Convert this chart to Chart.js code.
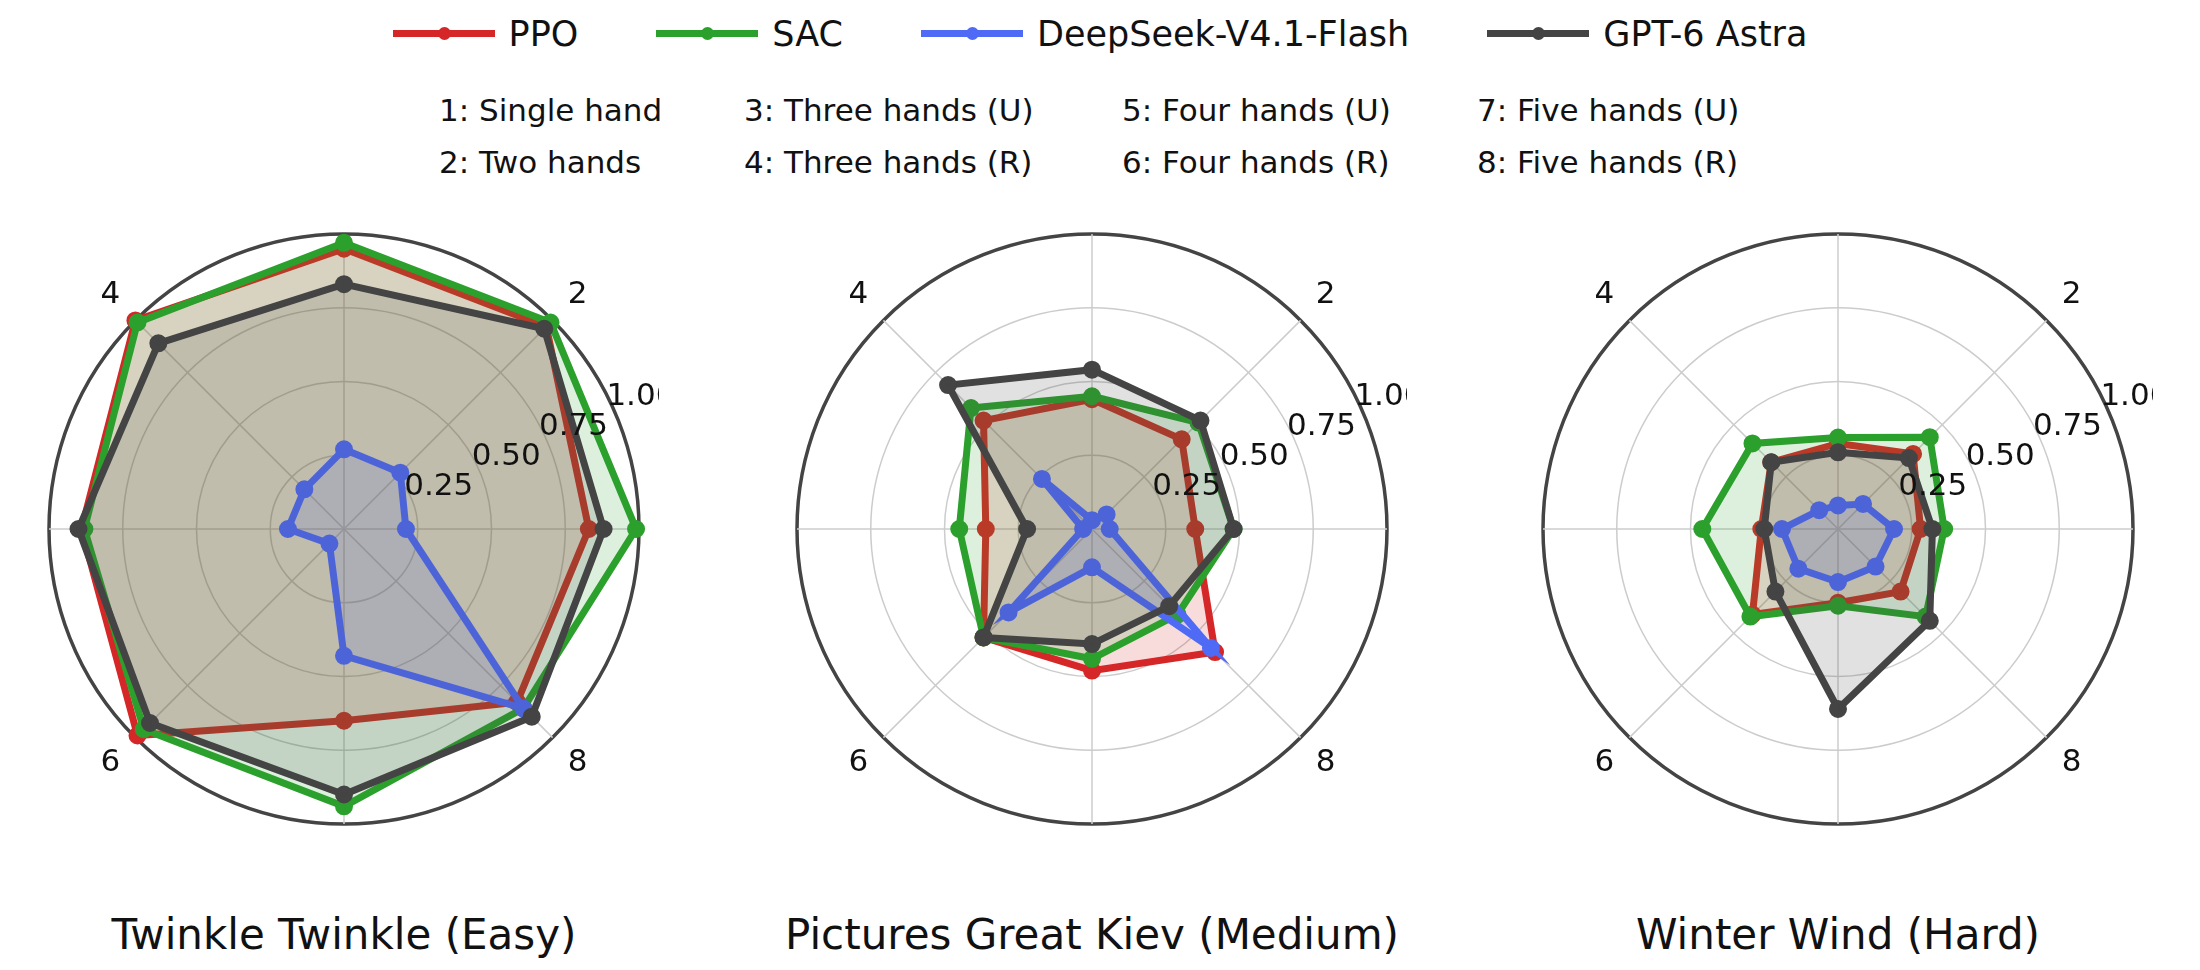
<!DOCTYPE html>
<html><head><meta charset="utf-8">
<script src="https://cdn.jsdelivr.net/npm/chart.js@4"></script>
<style>
body{margin:0;width:2200px;height:970px;background:#fff;font-family:"DejaVu Sans",sans-serif;position:relative;overflow:hidden;color:#111}
.abs{position:absolute}
#legend{left:0;width:2200px;top:14px;display:flex;justify-content:center;gap:78px;font-size:35px}
.li{display:flex;align-items:center;gap:14px}
.mk{position:relative;width:102px;height:8px}
.mk i{position:absolute;left:0;right:0;top:0;height:7px}
.mk b{position:absolute;left:45px;top:-3px;width:13px;height:13px;border-radius:50%}
.fn{font-size:31px;white-space:nowrap}
.ttl{font-size:42px;width:740px;text-align:center;top:910px}
canvas{position:absolute}
</style></head><body>
<div id="legend" class="abs"></div>
<div id="notes"></div>
<script>
const series = ["PPO","SAC","DeepSeek-V4.1-Flash","GPT-6 Astra"];
const colors = ["#d62728","#2ca02c","#4f6bf5","#444444"];
const axisLabels = ["1","2","3","4","5","6","7","8"];
const notes = ["1: Single hand","2: Two hands","3: Three hands (U)","4: Three hands (R)","5: Four hands (U)","6: Four hands (R)","7: Five hands (U)","8: Five hands (R)"];
const titles = ["Twinkle Twinkle (Easy)","Pictures Great Kiev (Medium)","Winter Wind (Hard)"];
const tickLabels = ["0.25","0.50","0.75","1.00"];
const tickValues = [0.25,0.5,0.75,1.0];
// values per axis 1..8
const easyPPO = [0.83,0.97,0.95,1.0,0.89,0.99,0.65,0.83];
const easySAC = [0.99,0.99,0.97,0.99,0.88,0.96,0.94,0.86];
const easyDS  = [0.21,0.27,0.27,0.19,0.19,0.07,0.43,0.86];
const easyGPT = [0.88,0.96,0.83,0.89,0.90,0.93,0.90,0.90];
const medPPO = [0.35,0.43,0.44,0.52,0.36,0.52,0.48,0.59];
const medSAC = [0.48,0.51,0.45,0.58,0.45,0.52,0.44,0.41];
const medDS  = [0.06,0.07,0.03,0.24,0.03,0.40,0.13,0.57];
const medGPT = [0.48,0.52,0.54,0.69,0.22,0.52,0.39,0.37];
const hardPPO = [0.28,0.36,0.29,0.32,0.26,0.41,0.25,0.30];
const hardSAC = [0.36,0.44,0.31,0.41,0.46,0.42,0.26,0.42];
const hardDS  = [0.19,0.12,0.08,0.09,0.19,0.19,0.18,0.18];
const hardGPT = [0.32,0.34,0.26,0.32,0.25,0.30,0.61,0.44];
const panels = [[easyPPO,easySAC,easyDS,easyGPT],[medPPO,medSAC,medDS,medGPT],[hardPPO,hardSAC,hardDS,hardGPT]];
// clockwise from top: 3,2,1,8,7,6,5,4
const order = [2,1,0,7,6,5,4,3];

const lg=document.getElementById('legend');
series.forEach((s,i)=>{lg.innerHTML+=`<div class="li"><div class="mk"><i style="background:${colors[i]}"></i><b style="background:${colors[i]}"></b></div><span>${s}</span></div>`;});
const nx=[439,744,1122,1477];
const nt=document.getElementById('notes');
notes.forEach((n,i)=>{const c=Math.floor(i/2),r=i%2;nt.innerHTML+=`<div class="abs fn" style="left:${nx[c]}px;top:${92+r*52}px">${n}</div>`;});

const centers=[344,1092,1838], cy=529, R=295;
function hexA(h,a){const n=parseInt(h.slice(1),16);return `rgba(${n>>16},${(n>>8)&255},${n&255},${a})`;}
const labelPlugin={id:'lbls',afterDraw(chart){
  const s=chart.scales.r, ctx=chart.ctx;
  ctx.save();ctx.fillStyle='#111';ctx.font='31px "DejaVu Sans"';ctx.textAlign='center';ctx.textBaseline='middle';
  order.forEach((ai,i)=>{const p=s.getPointPositionForValue(i,1.12);ctx.fillText(axisLabels[ai],p.x,p.y);});
  const ang=24*Math.PI/180;
  tickValues.forEach((v,k)=>{const d=s.getDistanceFromCenterForValue(v)+30;ctx.fillText(tickLabels[k],s.xCenter+d*Math.cos(ang),s.yCenter-d*Math.sin(ang));});
  ctx.restore();
}};
panels.forEach((pd,p)=>{
  const cv=document.createElement('canvas');
  const S=2*R+40;
  cv.width=S;cv.height=S;cv.style.left=(centers[p]-S/2)+'px';cv.style.top=(cy-S/2)+'px';cv.style.width=S+'px';cv.style.height=S+'px';
  document.body.appendChild(cv);
  const t=document.createElement('div');t.className='abs ttl';t.textContent=titles[p];t.style.left=(centers[p]-370)+'px';document.body.appendChild(t);
  new Chart(cv,{type:'radar',
    data:{labels:order.map(i=>axisLabels[i]),datasets:pd.map((d,i)=>({label:series[i],data:order.map(k=>d[k]),borderColor:colors[i],backgroundColor:hexA(colors[i],0.16),fill:true,borderWidth:7,pointRadius:5.5,pointBackgroundColor:colors[i],pointBorderColor:colors[i],order:4-i}))},
    options:{responsive:false,animation:false,devicePixelRatio:1,layout:{padding:20},
      plugins:{legend:{display:false},tooltip:{enabled:false}},
      scales:{r:{min:0,max:1,startAngle:0,ticks:{stepSize:0.25,display:false},pointLabels:{display:false},
        grid:{circular:true,color:c=>c.tick&&c.tick.value>=1?'#444':'#cccccc',lineWidth:c=>c.tick&&c.tick.value>=1?3.5:1.5},
        angleLines:{color:'#cccccc',lineWidth:1.5}}}},
    plugins:[labelPlugin]});
});
</script></body></html>
